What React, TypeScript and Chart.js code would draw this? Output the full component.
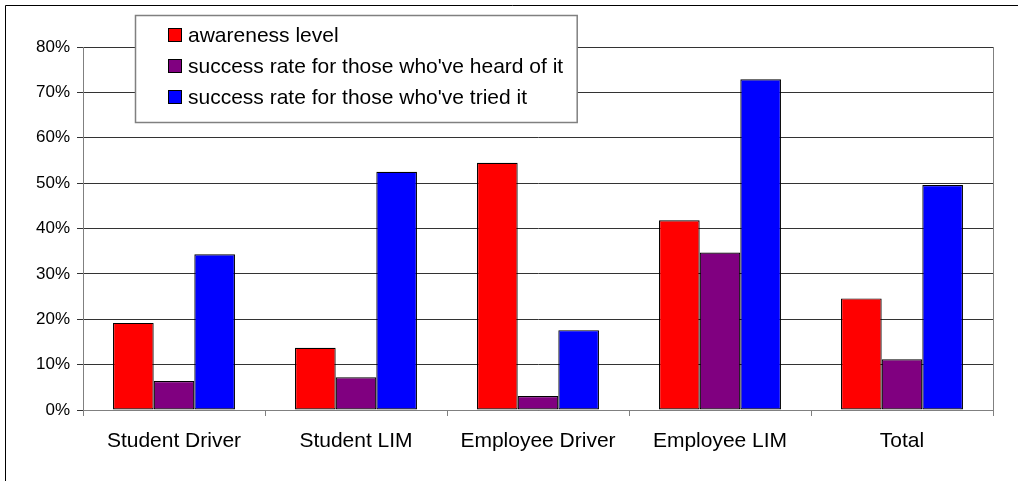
import React, { useEffect, useRef } from "react";
import { Chart, registerables } from "chart.js";

Chart.register(...registerables);

const categories = ["Student Driver", "Student LIM", "Employee Driver", "Employee LIM", "Total"];
const awarenessLevel = [19.2, 13.7, 54.5, 41.8, 24.6];
const successHeard = [6.4, 7.2, 3.1, 34.7, 11.2];
const successTried = [34.3, 52.5, 17.6, 72.9, 49.6];
const seriesLabels = [
  "awareness level",
  "success rate for those who've heard of it",
  "success rate for those who've tried it",
];
const seriesColors = ["#FF0000", "#800080", "#0000FF"];

const FONT = "'Liberation Sans', Arial, sans-serif";

const decorPlugin = {
  id: "decor",
  afterDraw(chart: any) {
    const ctx = chart.ctx;
    const area = chart.chartArea;
    ctx.save();
    // right border of plot area
    ctx.strokeStyle = "#808080";
    ctx.lineWidth = 1;
    ctx.beginPath();
    ctx.moveTo(Math.round(area.right) + 0.5, area.top);
    ctx.lineTo(Math.round(area.right) + 0.5, area.bottom);
    ctx.stroke();
    // outer chart border (top and left)
    ctx.strokeStyle = "#000";
    ctx.beginPath();
    ctx.moveTo(5.5, chart.height + 5);
    ctx.lineTo(5.5, 5.5);
    ctx.lineTo(chart.width + 5, 5.5);
    ctx.stroke();

    // legend
    const datasets = chart.data.datasets;
    ctx.font = `21px ${FONT}`;
    let maxW = 0;
    datasets.forEach((d: any) => {
      maxW = Math.max(maxW, ctx.measureText(d.label).width);
    });
    const bx = 135.5;
    const by = 15.5;
    const textX = 188;
    const bw = textX - bx + maxW + 14;
    const bh = 107;
    ctx.fillStyle = "#fff";
    ctx.fillRect(bx, by, bw, bh);
    ctx.strokeStyle = "#808080";
    ctx.lineWidth = 1.5;
    ctx.strokeRect(bx, by, bw, bh);
    const rowY = [35, 66, 97];
    datasets.forEach((d: any, i: number) => {
      const cy = rowY[i];
      ctx.fillStyle = d.backgroundColor;
      ctx.fillRect(168.5, cy - 6.5, 13, 13);
      ctx.strokeStyle = "#000";
      ctx.lineWidth = 1;
      ctx.strokeRect(168.5, cy - 6.5, 13, 13);
      ctx.fillStyle = "#000";
      ctx.textBaseline = "middle";
      ctx.textAlign = "left";
      ctx.fillText(d.label, textX, cy + 1);
    });
    ctx.restore();
  },
};

export default function App() {
  const ref = useRef<HTMLCanvasElement | null>(null);
  useEffect(() => {
    document.body.style.margin = "0";
    if (!ref.current) return;
    const values = [awarenessLevel, successHeard, successTried];
    const chart = new Chart(ref.current, {
      type: "bar",
      data: {
        labels: categories,
        datasets: values.map((v, i) => ({
          label: seriesLabels[i],
          data: v,
          backgroundColor: seriesColors[i],
          borderColor: "#000",
          borderWidth: 1.2,
          borderSkipped: false,
          categoryPercentage: 0.67,
          barPercentage: 1,
        })),
      },
      options: {
        responsive: false,
        animation: false,
        devicePixelRatio: 1,
        layout: { padding: { left: 0, right: 25, top: 47, bottom: 0 } },
        plugins: {
          legend: { display: false },
          tooltip: { enabled: false },
        },
        scales: {
          x: {
            grid: {
              display: true,
              drawOnChartArea: false,
              drawTicks: true,
              tickLength: 6,
              color: "#808080",
              offset: true,
            },
            border: { display: true, color: "#808080", width: 1 },
            ticks: {
              color: "#000",
              font: { family: FONT, size: 21 },
              padding: 13,
              maxRotation: 0,
              autoSkip: false,
            },
            afterFit(scale: any) {
              scale.height = 71;
            },
          },
          y: {
            min: 0,
            max: 80,
            grid: {
              color: "#333",
              tickLength: 6,
              drawTicks: true,
            },
            border: { display: true, color: "#808080", width: 1 },
            ticks: {
              stepSize: 10,
              color: "#000",
              font: { family: FONT, size: 17 },
              padding: 7,
              callback: (v: any) => `${v}%`,
            },
            afterFit(scale: any) {
              scale.width = 83;
            },
          },
        },
      },
      plugins: [decorPlugin],
    });
    return () => chart.destroy();
  }, []);
  return (
    <div style={{ width: 1018, height: 481, background: "#fff" }}>
      <canvas ref={ref} width={1018} height={481} style={{ display: "block" }} />
    </div>
  );
}
